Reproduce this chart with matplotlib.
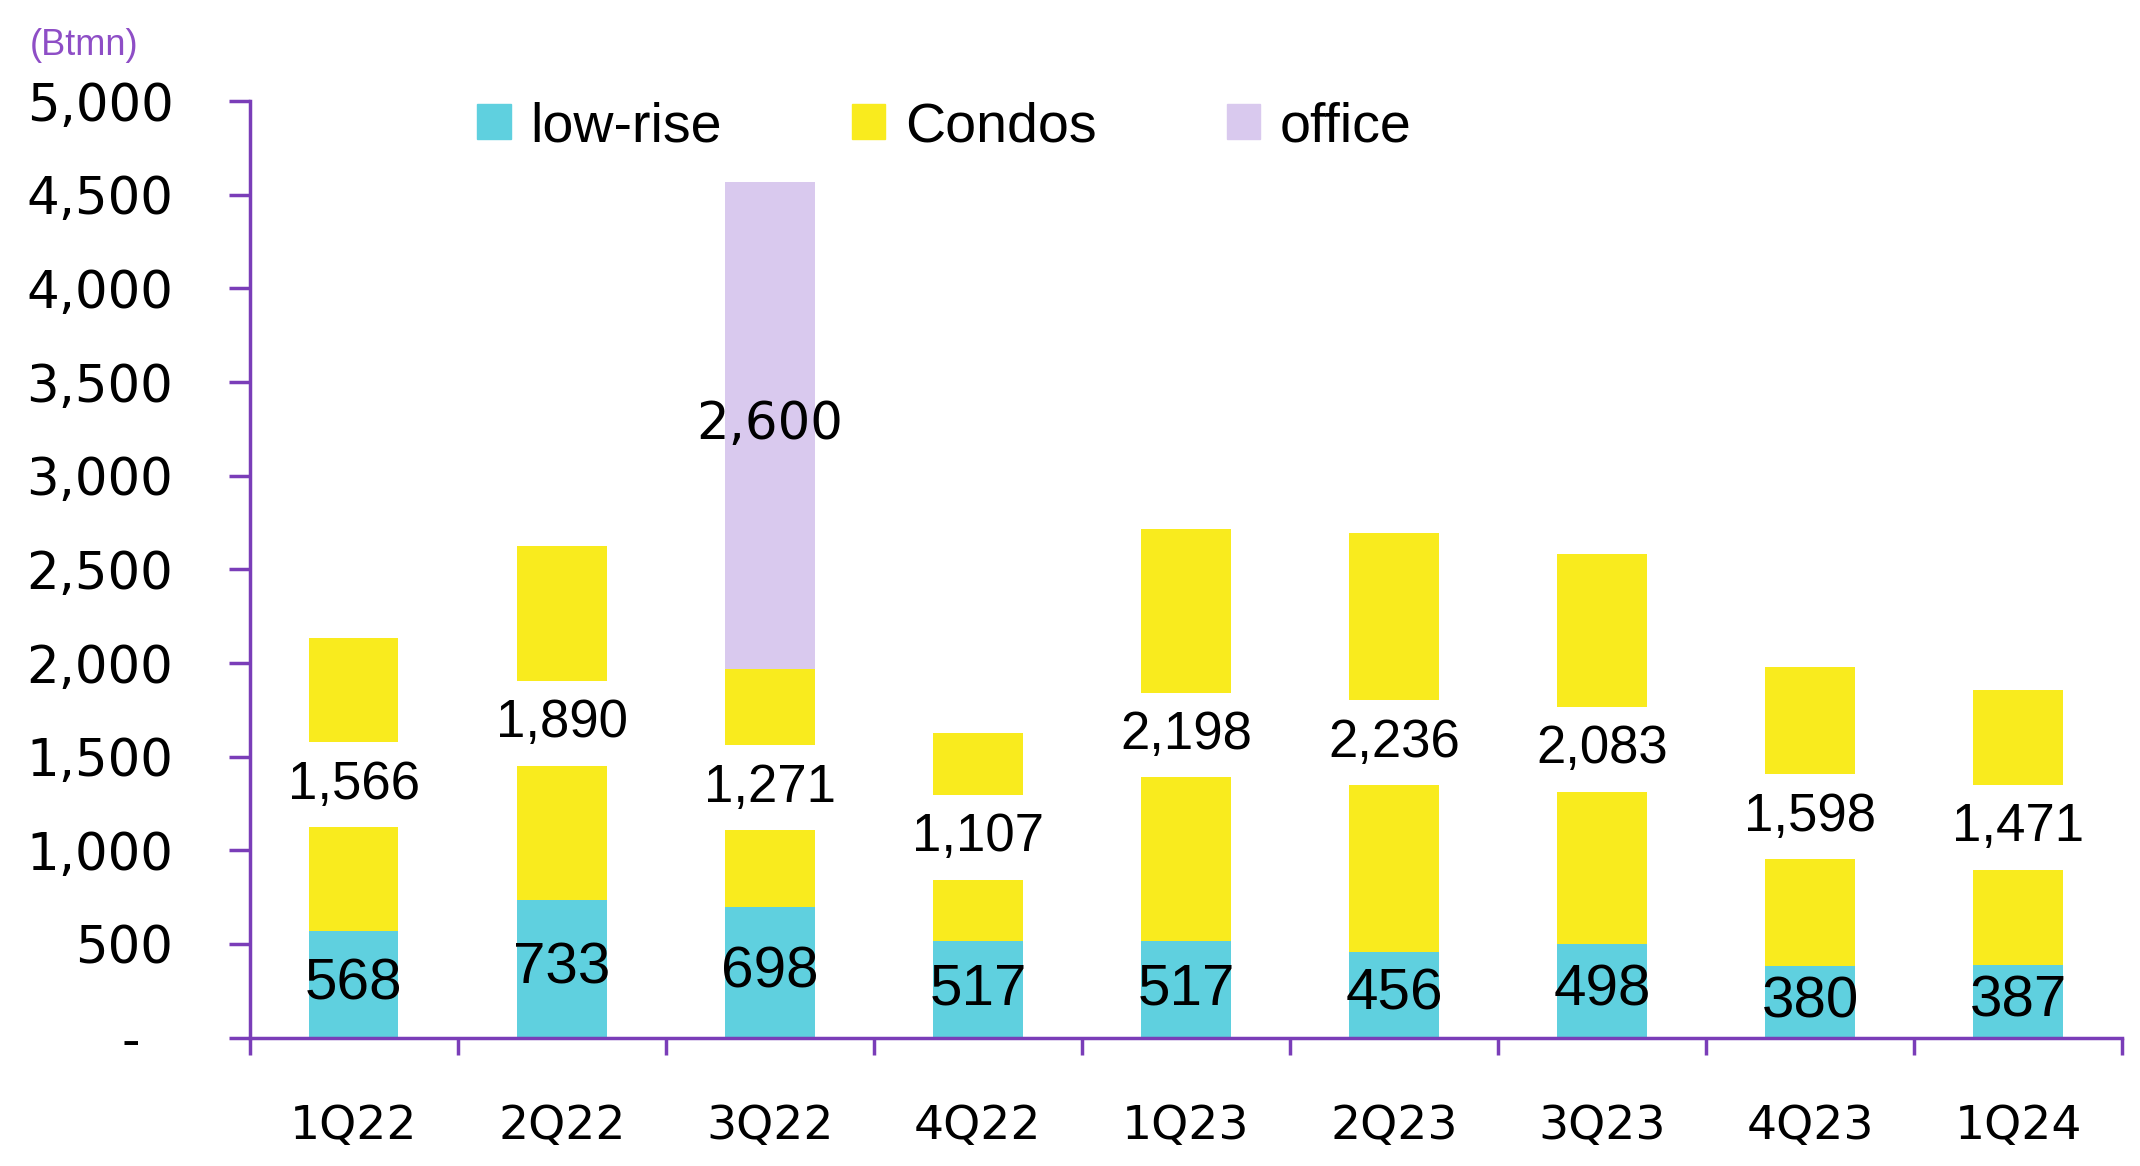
import matplotlib
matplotlib.use('Agg')
import matplotlib.pyplot as plt
from matplotlib.patches import Patch
from matplotlib.ticker import FuncFormatter, FixedLocator
import numpy as np

quarters = ["1Q22", "2Q22", "3Q22", "4Q22", "1Q23", "2Q23", "3Q23", "4Q23", "1Q24"]
low_rise = [568, 733, 698, 517, 517, 456, 498, 380, 387]
condos = [1566, 1890, 1271, 1107, 2198, 2236, 2083, 1598, 1471]
office = [0, 0, 2600, 0, 0, 0, 0, 0, 0]
series_names = ["low-rise", "Condos", "office"]

C_LOW = "#5FD0DF"
C_CONDO = "#F9EB1E"
C_OFFICE = "#D9C9EE"
PURPLE = "#7A3DB8"

fig = plt.figure(figsize=(21.4, 11.66), dpi=100)
ax = fig.add_axes([0.1167, 0.1101, 0.875, 0.8032])

x = np.arange(len(quarters))
low = np.array(low_rise)
con = np.array(condos)
off = np.array(office)
w = 0.43

ax.bar(x, low, w, color=C_LOW)
ax.bar(x, con, w, bottom=low, color=C_CONDO)
ax.bar(x, off, w, bottom=low + con, color=C_OFFICE)

# value labels (condos label sits on a white box that cuts the bar)
for i in range(len(quarters)):
    ax.text(x[i], low[i] / 2, f"{low[i]:,}", ha='center', va='center',
            fontsize=42, family='Liberation Sans', color='black')
    ax.text(x[i], low[i] + con[i] / 2, f"{con[i]:,}", ha='center', va='center',
            fontsize=38, family='Liberation Sans', color='black',
            bbox=dict(boxstyle='square,pad=0.33', fc='white', ec='none'))
    if off[i] > 0:
        ax.text(x[i], low[i] + con[i] + off[i] / 2, f"{off[i]:,}", ha='center', va='center',
                fontsize=37, family='DejaVu Sans', color='black')

ax.set_xlim(-0.5, len(quarters) - 0.5)
ax.set_ylim(0, 5000)

for s in ['top', 'right']:
    ax.spines[s].set_visible(False)
for s in ['left', 'bottom']:
    ax.spines[s].set_color(PURPLE)
    ax.spines[s].set_linewidth(2.5)

ax.set_yticks(np.arange(0, 5001, 500))
ax.yaxis.set_major_formatter(FuncFormatter(lambda v, p: "-\u2007" if v == 0 else f"{int(v):,}"))
ax.tick_params(axis='y', length=15, width=2.5, color=PURPLE, pad=40, labelsize=37)

ax.set_xticks(x)
ax.set_xticklabels(quarters)
ax.xaxis.set_minor_locator(FixedLocator(np.arange(-0.5, len(quarters), 1.0)))
ax.tick_params(axis='x', which='major', length=0, pad=48, labelsize=34)
ax.tick_params(axis='x', which='minor', length=12, width=2.5, color=PURPLE)
for lab in ax.get_xticklabels() + ax.get_yticklabels():
    lab.set_family('DejaVu Sans')

handles = [Patch(color=C_LOW), Patch(color=C_CONDO), Patch(color=C_OFFICE)]
fig.legend(handles, series_names, loc='center left', bbox_to_anchor=(0.223, 0.891),
           ncol=3, frameon=False, prop={'family': 'Liberation Sans', 'size': 40},
           handlelength=0.6, handleheight=0.6, handletextpad=0.35, columnspacing=2.35,
           borderpad=0, borderaxespad=0)

fig.text(0.014, 0.961, "(Btmn)", color="#8E4EC6", fontsize=26, family='Liberation Sans',
         ha='left', va='center')

fig.savefig("out.png", dpi=100)
plt.close(fig)
